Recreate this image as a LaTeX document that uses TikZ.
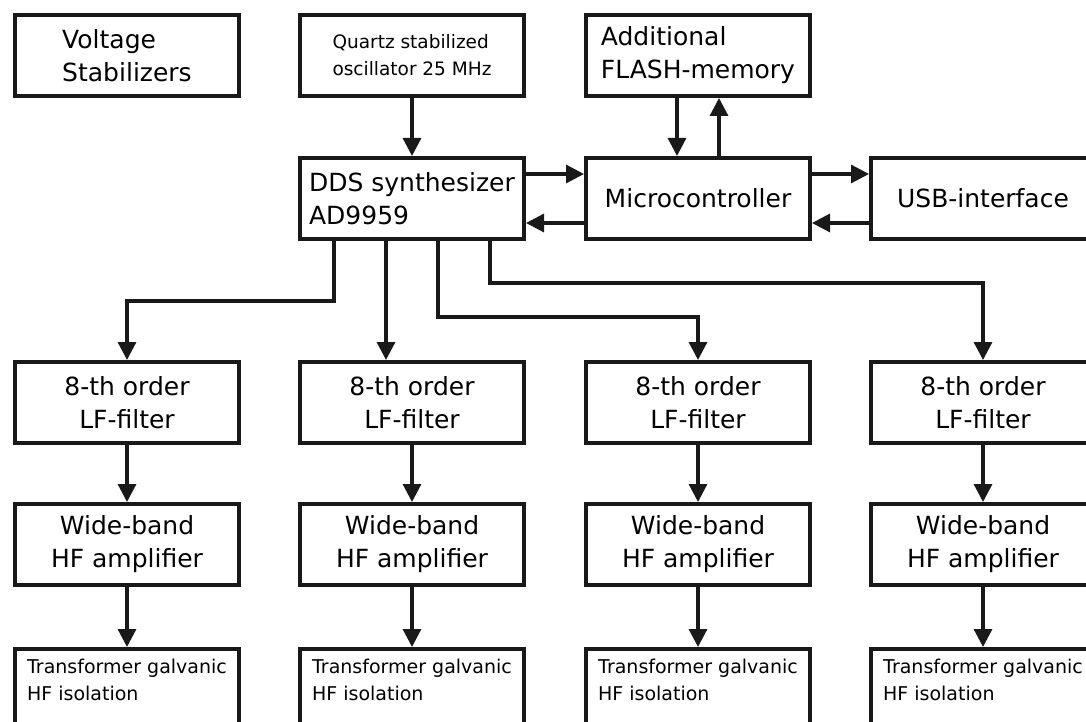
\documentclass[tikz,border=0pt]{standalone}
\usepackage{fontspec}
\setmainfont{DejaVu Sans}
\usetikzlibrary{arrows.meta}

\begin{document}
\begin{tikzpicture}[>={Triangle[length=18pt,width=18pt]}]
\useasboundingbox (0,0) rectangle (1086pt,-722pt);
\clip (0,0) rectangle (1086pt,-722pt);
\begin{scope}

\tikzstyle{blocknode} = [draw=black!90,line width=4pt,minimum width=224pt,minimum height=81pt,align=center,font=\fontsize{25}{33}\selectfont];
\tikzstyle{leftnode} = [blocknode,align=left];
\tikzstyle{isonode} = [blocknode,align=left,text depth=19pt,font=\fontsize{19}{27}\selectfont];
\tikzstyle{sigline} = [->,draw=black!90,line width=3.2pt];

% control part
\node [leftnode,anchor=north west] (volt) at (13pt,-13pt) {Voltage\\Stabilizers};
\node [leftnode,anchor=west,font=\fontsize{18.5}{27}\selectfont] (osc) at ([xshift=57pt]volt.east) {Quartz stabilized\\oscillator 25 MHz};
\node [leftnode,anchor=west] (flash) at ([xshift=58pt]osc.east) {Additional\\FLASH-memory};

\node [leftnode,anchor=north] (dds) at ([yshift=-58pt]osc.south) {DDS synthesizer\\AD9959};
\node [blocknode,anchor=west] (mcu) at ([xshift=58pt]dds.east) {Microcontroller};
\node [blocknode,anchor=west] (usb) at ([xshift=57pt]mcu.east) {USB-interface};

% output channels
\node [blocknode,anchor=north] (flt2) at ([yshift=-119pt]dds.south) {8-th order\\LF-filter};
\node [blocknode,anchor=east] (flt1) at ([xshift=-57pt]flt2.west) {8-th order\\LF-filter};
\node [blocknode,anchor=west] (flt3) at ([xshift=58pt]flt2.east) {8-th order\\LF-filter};
\node [blocknode,anchor=west] (flt4) at ([xshift=57pt]flt3.east) {8-th order\\LF-filter};

\node [blocknode,anchor=north] (amp1) at ([yshift=-57pt]flt1.south) {Wide-band\\HF amplifier};
\node [blocknode,anchor=north] (amp2) at ([yshift=-57pt]flt2.south) {Wide-band\\HF amplifier};
\node [blocknode,anchor=north] (amp3) at ([yshift=-57pt]flt3.south) {Wide-band\\HF amplifier};
\node [blocknode,anchor=north] (amp4) at ([yshift=-57pt]flt4.south) {Wide-band\\HF amplifier};

\node [isonode,anchor=north] (iso1) at ([yshift=-60pt]amp1.south) {Transformer galvanic\\HF isolation};
\node [isonode,anchor=north] (iso2) at ([yshift=-60pt]amp2.south) {Transformer galvanic\\HF isolation};
\node [isonode,anchor=north] (iso3) at ([yshift=-60pt]amp3.south) {Transformer galvanic\\HF isolation};
\node [isonode,anchor=north] (iso4) at ([yshift=-60pt]amp4.south) {Transformer galvanic\\HF isolation};

\draw [sigline] (osc.south) -- (dds.north);
\draw [sigline] ([xshift=-21pt]flash.south) -- ([xshift=-21pt]mcu.north);
\draw [sigline] ([xshift=21pt]mcu.north) -- ([xshift=21pt]flash.south);
\draw [sigline] ([yshift=-18pt]dds.north east) -- ([yshift=-18pt]mcu.north west);
\draw [sigline] ([yshift=18pt]mcu.south west) -- ([yshift=18pt]dds.south east);
\draw [sigline] ([yshift=-18pt]mcu.north east) -- ([yshift=-18pt]usb.north west);
\draw [sigline] ([yshift=18pt]usb.south west) -- ([yshift=18pt]mcu.south east);

% DDS outputs
\draw [sigline] ([xshift=-78pt]dds.south) |- ([yshift=59pt]flt1.north) -- (flt1.north);
\draw [sigline] ([xshift=-26pt]dds.south) -- ([xshift=-26pt]flt2.north);
\draw [sigline] ([xshift=26pt]dds.south) |- ([yshift=43pt]flt3.north) -- (flt3.north);
\draw [sigline] ([xshift=78pt]dds.south) |- ([yshift=77pt]flt4.north) -- (flt4.north);

\draw [sigline] (flt1.south) -- (amp1.north);
\draw [sigline] (flt2.south) -- (amp2.north);
\draw [sigline] (flt3.south) -- (amp3.north);
\draw [sigline] (flt4.south) -- (amp4.north);
\draw [sigline] (amp1.south) -- (iso1.north);
\draw [sigline] (amp2.south) -- (iso2.north);
\draw [sigline] (amp3.south) -- (iso3.north);
\draw [sigline] (amp4.south) -- (iso4.north);

\end{scope}
\end{tikzpicture}
\end{document}
